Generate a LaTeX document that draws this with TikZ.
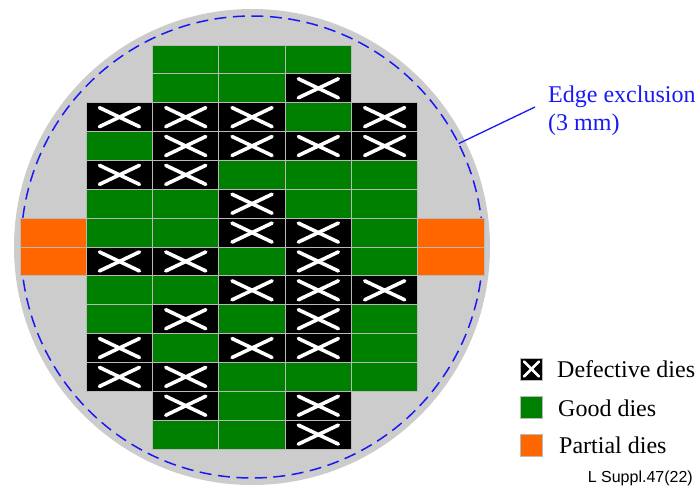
\documentclass[tikz,border=0pt]{standalone}
\usepackage{fontspec}
\setmainfont{Liberation Serif}
\newfontfamily\refsans{Liberation Sans}
\definecolor{wafergray}{RGB}{204,204,204}
\definecolor{goodgreen}{RGB}{0,128,0}
\definecolor{partorange}{RGB}{255,102,0}
\definecolor{cellline}{RGB}{185,185,185}
\definecolor{exclblue}{RGB}{25,25,245}
\begin{document}
\begin{tikzpicture}[x=1pt,y=-1pt,
  die/.style={rectangle,draw=cellline,line width=1pt,minimum width=66.3pt,minimum height=28.86pt,inner sep=0pt,outer sep=0pt},
  dieG/.style={die,fill=goodgreen},
  dieP/.style={die,fill=partorange},
  xmark/.style={white,line width=3.6pt,line cap=round},
  dieB/.style={die,fill=black,path picture={
      \draw[xmark] ([shift={(-20pt,-9.5pt)}]path picture bounding box.center) -- ([shift={(20pt,9.5pt)}]path picture bounding box.center);
      \draw[xmark] ([shift={(-20pt,9.5pt)}]path picture bounding box.center) -- ([shift={(20pt,-9.5pt)}]path picture bounding box.center);}},
  legbox/.style={rectangle,draw=cellline,line width=1pt,minimum size=22pt,inner sep=0pt},
  legtext/.style={anchor=base west,inner sep=0pt,font=\fontsize{24}{28}\selectfont},
  excltext/.style={anchor=base west,inner sep=0pt,text=exclblue,font=\fontsize{24}{28}\selectfont}
]
\useasboundingbox (0,0) rectangle (697,488);
% wafer
\node[circle,fill=wafergray,minimum size=476pt,inner sep=0pt] (wafer) at (252,247) {};
\node[circle,draw=exclblue,line width=1.5pt,dash pattern=on 12pt off 6.5pt,minimum size=462pt,inner sep=0pt] (excl) at (252,247) {};
% good dies
\foreach \r/\c in {0/2,0/3,0/4,1/2,1/3,2/4,3/1,4/3,4/4,4/5,5/1,5/2,5/4,5/5,6/1,6/2,6/5,7/3,7/5,8/1,8/2,9/1,9/3,9/5,10/2,10/5,11/3,11/4,11/5,12/3,13/2,13/3}
  \node[dieG] (d-\r-\c) at ({53.15+66.3*\c},{59.43+28.86*\r}) {};
% defective dies
\foreach \r/\c in {1/4,2/1,2/2,2/3,2/5,3/2,3/3,3/4,3/5,4/1,4/2,5/3,6/3,6/4,7/1,7/2,7/4,8/3,8/4,8/5,9/2,9/4,10/1,10/3,10/4,11/1,11/2,12/2,12/4,13/4}
  \node[dieB] (d-\r-\c) at ({53.15+66.3*\c},{59.43+28.86*\r}) {};
% partial dies
\foreach \r/\c in {6/0,6/6,7/0,7/6}
  \node[dieP] (d-\r-\c) at ({53.15+66.3*\c},{59.43+28.86*\r}) {};
% edge exclusion label
\node[excltext] (lblA) at (548,102) {Edge exclusion};
\node[excltext] (lblB) at (548,130) {(3 mm)};
\coordinate (leadstart) at (535,107);
\coordinate (exclpt) at (458.6,143.6);
\draw[exclblue,line width=1.3pt] (leadstart) -- (exclpt);
% legend
\node[legbox,fill=black] (legB) at (531.5,369) {};
\draw[white,line width=2.8pt,line cap=round] ([shift={(4pt,-4pt)}]legB.north west) -- ([shift={(-4pt,4pt)}]legB.south east);
\draw[white,line width=2.8pt,line cap=round] ([shift={(4pt,4pt)}]legB.south west) -- ([shift={(-4pt,-4pt)}]legB.north east);
\node[legbox,fill=goodgreen] (legG) at (531.5,407.5) {};
\node[legbox,fill=partorange] (legP) at (531.5,445) {};
\node[legtext] (txtB) at (557,377) {Defective dies};
\node[legtext] (txtG) at (558,416) {Good dies};
\node[legtext] (txtP) at (559,453) {Partial dies};
\node[anchor=base east,inner sep=0pt,font=\refsans\fontsize{16}{19}\selectfont] (ref) at (693,482) {L Suppl.47(22)};
\end{tikzpicture}
\end{document}
